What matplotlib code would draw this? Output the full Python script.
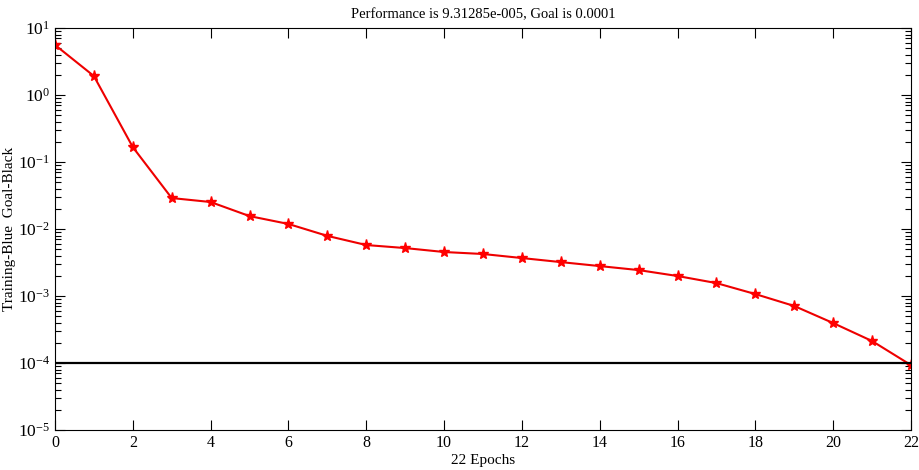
import numpy as np
import matplotlib
matplotlib.use("Agg")
import matplotlib.pyplot as plt
from matplotlib.ticker import LogLocator, FixedLocator

plt.rcParams['font.family'] = ['Liberation Serif', 'DejaVu Serif']
plt.rcParams['mathtext.fontset'] = 'custom'
plt.rcParams['mathtext.rm'] = 'Liberation Serif'
plt.rcParams['mathtext.it'] = 'Liberation Serif:italic'

# performance par epoch
epochs = np.arange(0, 23)
perf = [5.6, 1.92, 0.167, 0.029, 0.0253, 0.0156, 0.0119, 0.0079, 0.00577,
        0.0052, 0.00454, 0.00424, 0.00369, 0.00321, 0.0028, 0.00244, 0.00199,
        0.00156, 0.00107, 0.00071, 0.000395, 0.000213, 9.31285e-05]
goal = 0.0001

fig = plt.figure(figsize=(9.19, 4.70), dpi=100)
ax = fig.add_axes([0.0598, 0.085, 0.9315, 0.8554])

ax.semilogy(epochs, perf, color='#ee0000', lw=1.5, marker='*',
            markersize=8, markerfacecolor='red', markeredgecolor='red')
ax.axhline(goal, color='black', lw=1.6)

ax.set_xlim(0, 22)
ax.set_ylim(1e-5, 1e1)
ax.set_xticks(range(0, 23, 2))
ax.yaxis.set_major_locator(FixedLocator([10.0**k for k in range(-5, 2)]))
ax.yaxis.set_minor_locator(LogLocator(base=10, subs=np.arange(2, 10)))
ax.set_yticklabels(['$10^{%d}$' % k for k in range(-5, 2)])

ax.tick_params(which='both', direction='in', top=True, right=True)
ax.tick_params(axis='y', labelsize=12.5)
ax.tick_params(axis='x', labelsize=11.5)
ax.tick_params(which='major', length=7, width=0.8)
ax.tick_params(which='minor', length=4, width=0.8)
for s in ax.spines.values():
    s.set_linewidth(0.8)

ax.set_title('Performance is 9.31285e-005, Goal is 0.0001', fontsize=10.5, pad=7)
ax.set_xlabel('22 Epochs', fontsize=11, labelpad=2)
ax.set_ylabel('Training-Blue  Goal-Black', fontsize=11, labelpad=1)

fig.savefig('out.png', dpi=100)
